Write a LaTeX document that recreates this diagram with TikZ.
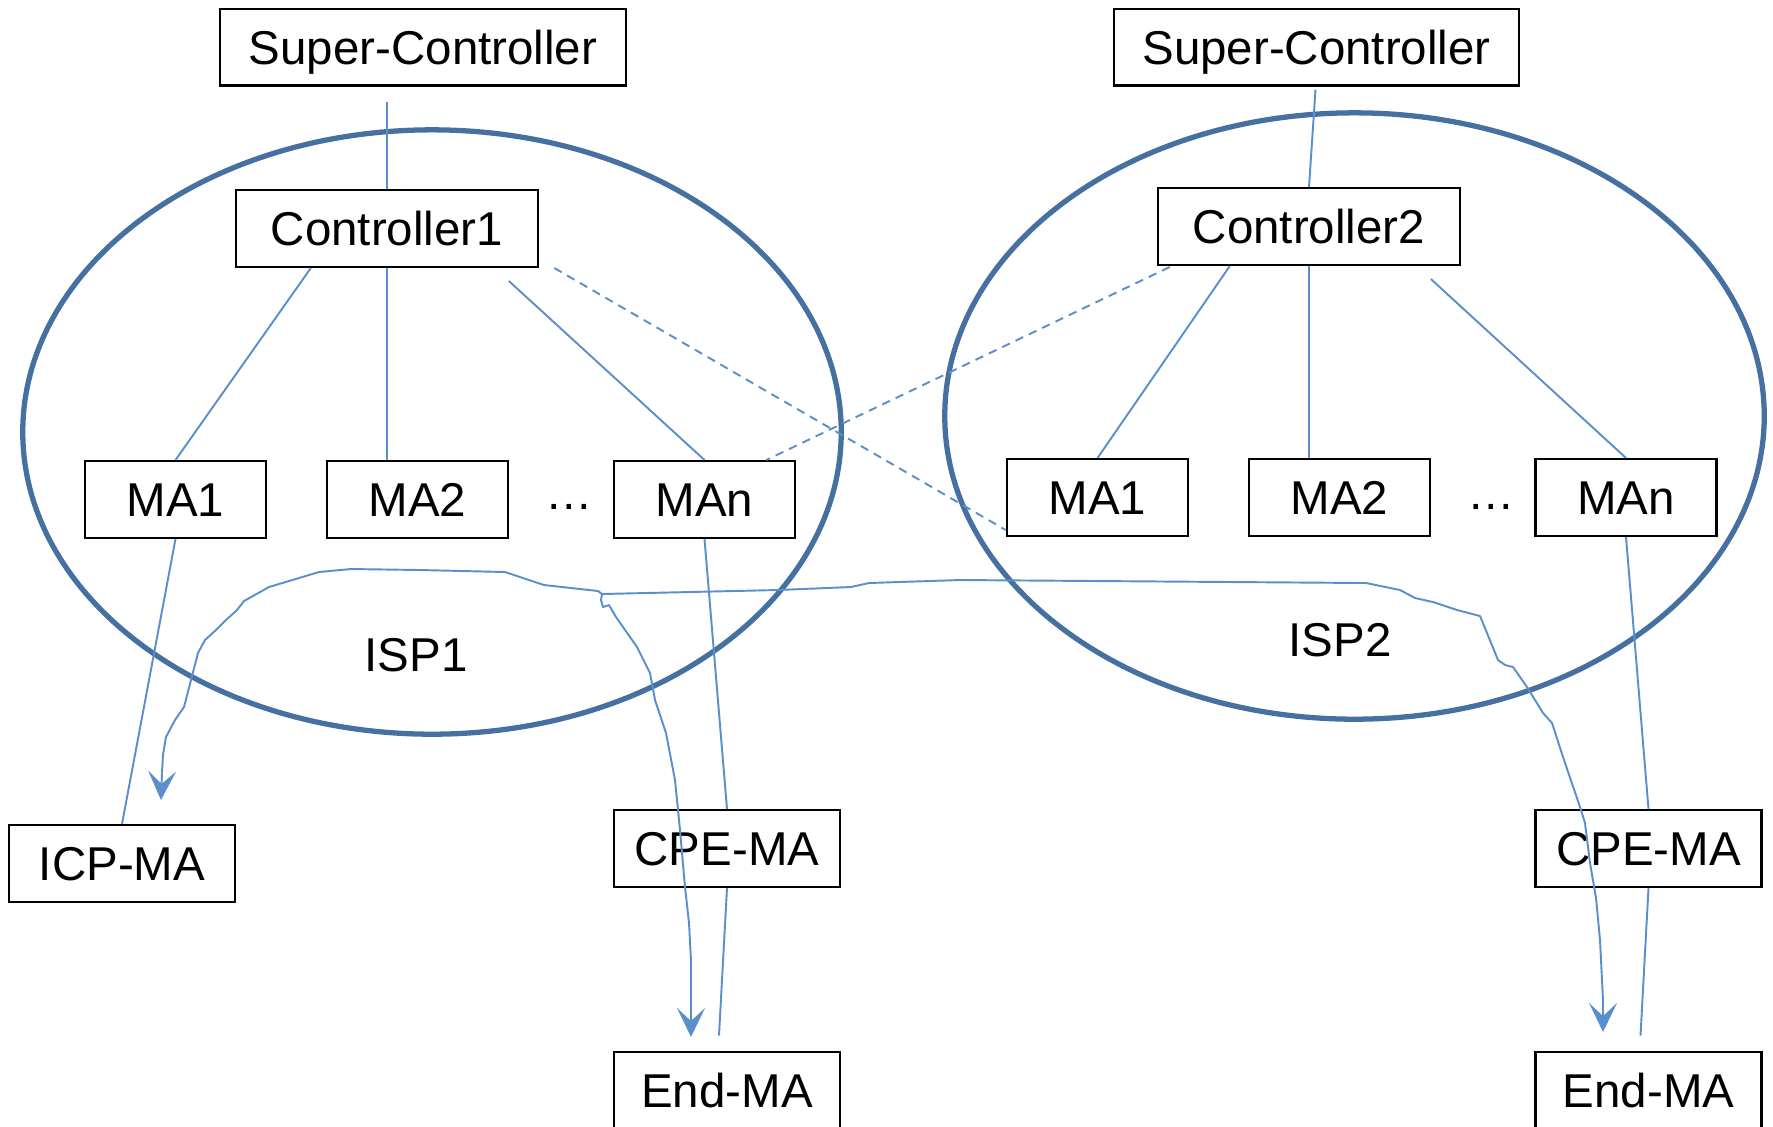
\documentclass[tikz,border=0pt]{standalone}
\usepackage{fontspec}
\setmainfont{Liberation Sans}
\usetikzlibrary{arrows.meta,calc,shapes.geometric}
\definecolor{ellc}{HTML}{4670A0}
\definecolor{linec}{HTML}{5B8FCB}
\begin{document}
\begin{tikzpicture}[x=0.01cm,y=-0.01cm,
  txt/.style={font=\fontsize{13.5}{16}\selectfont},
  box/.style={txt, draw=black, line width=0.7pt, inner sep=0pt, minimum height=0.765cm,
    text height=9.7pt, text depth=0pt},
  mabox/.style={box, minimum width=1.81cm},
  lowbox/.style={box, minimum width=2.26cm},
  lnk/.style={draw=linec, line width=0.55pt, line join=round},
  dlnk/.style={lnk, dash pattern=on 2.4pt off 1.8pt},
  isp/.style={draw=ellc, line width=1.5pt, ellipse, inner sep=0pt},
  arr/.style={lnk, -{Stealth[length=0.29cm,width=0.28cm,inset=0.13cm]}}]
\useasboundingbox (0,0) rectangle (1773,1126);

% ISP areas
\node[isp, minimum width=8.18cm, minimum height=6.04cm] (E1) at (432,432) {};
\node[isp, minimum width=8.19cm, minimum height=6.06cm] (E2) at (1354.5,416) {};
\node[txt] (ISP1) at (416,655) {ISP1};
\node[txt] (ISP2) at (1340,640) {ISP2};

% boxes
\node[box, minimum width=4.06cm] (SC1) at (423,47) {Super-Controller};
\node[box, minimum width=4.05cm] (SC2) at (1316.5,47) {Super-Controller};
\node[box, minimum width=3.02cm] (C1) at (387,228.5) {Controller1};
\node[box, minimum width=3.02cm] (C2) at (1309,226.5) {Controller2};
\node[mabox] (MA1L) at (175.5,499.5) {MA1};
\node[mabox] (MA2L) at (417.5,499.5) {MA2};
\node[mabox] (MAnL) at (704.5,499.5) {MAn};
\node[txt] (dotsL) at (569,507) {…};
\node[mabox] (MA1R) at (1097.5,497.5) {MA1};
\node[mabox] (MA2R) at (1339.5,497.5) {MA2};
\node[mabox] (MAnR) at (1626,497.5) {MAn};
\node[txt] (dotsR) at (1491,507) {…};
\node[lowbox] (ICP) at (122,863.5) {ICP-MA};
\node[lowbox] (CPEL) at (727,848.5) {CPE-MA};
\node[lowbox] (EndL) at (727,1090) {End-MA};
\node[lowbox] (CPER) at (1648.5,848.5) {CPE-MA};
\node[lowbox] (EndR) at (1648.5,1090) {End-MA};

% connectors
\draw[lnk] ($(SC1.south -| C1.north)+(0,15)$) -- (C1.north);
\draw[lnk] ($(SC2.south)+(-1,3)$) -- (C2.north);
\draw[lnk] ($(C1.south west)!0.25!(C1.south east)$) -- (MA1L.north);
\draw[lnk] (C1.south) -- (C1.south |- MA2L.north);
\draw[lnk] ($(C1.south west)!0.9!(C1.south east)+(0,13)$) -- (MAnL.north);
\draw[dlnk] ($(C1.south east)+(15,0)$) -- ($(MA1R.south west)+(0,-7)$);
\draw[dlnk] ($(C2.south west)+(13,1)$) -- ($(MAnL.north east)+(-30,0)$);
\draw[lnk] ($(C2.south west)!0.24!(C2.south east)$) -- (MA1R.north);
\draw[lnk] (C2.south) -- (C2.south |- MA2R.north);
\draw[lnk] ($(C2.south west)!0.9!(C2.south east)+(0,13)$) -- (MAnR.north);
\draw[lnk] (MA1L.south) -- (ICP.north);
\draw[lnk] (MAnL.south) -- (CPEL.north);
\draw[lnk] (CPEL.south) -- ($(EndL.north)+(-8,-15)$);
\draw[lnk] (MAnR.south) -- (CPER.north);
\draw[lnk] (CPER.south) -- ($(EndR.north)+(-8,-15)$);

% freehand flow
\coordinate (J) at (602,594);
\coordinate (tipICP) at (161,800);
\coordinate (tipEndL) at (691,1037);
\coordinate (tipEndR) at (1603,1032);
\draw[arr] (J) -- (598,591) -- (544,585) -- (505,572) -- (420,570) -- (351,569) -- (319,572)
  -- (269,587) -- (244,601) -- (237,610) -- (226,620) -- (216,630) -- (205,640) -- (198,653)
  -- (191,680) -- (184,707) -- (175,720) -- (166,737) -- (163,755) -- (162,773) -- (tipICP);
\draw[arr] (J) -- (601,600) -- (603,607) -- (609,605) -- (616,617) -- (637,647) -- (650,673)
  -- (655,700) -- (666,733) -- (675,780) -- (680,830) -- (685,887) -- (689,923) -- (691,960) -- (tipEndL);
\draw[arr] (J) -- (778,590) -- (851,587) -- (869,583) -- (960,580) -- (1366,583) -- (1400,590)
  -- (1415,598) -- (1433,602) -- (1457,610) -- (1480,616) -- (1487,633) -- (1498,660) -- (1505,665)
  -- (1513,667) -- (1527,687) -- (1543,713) -- (1552,723) -- (1563,757) -- (1580,807) -- (1585,823)
  -- (1590,863) -- (1596,898) -- (1600,940) -- (1603,1000) -- (tipEndR);
\end{tikzpicture}
\end{document}
